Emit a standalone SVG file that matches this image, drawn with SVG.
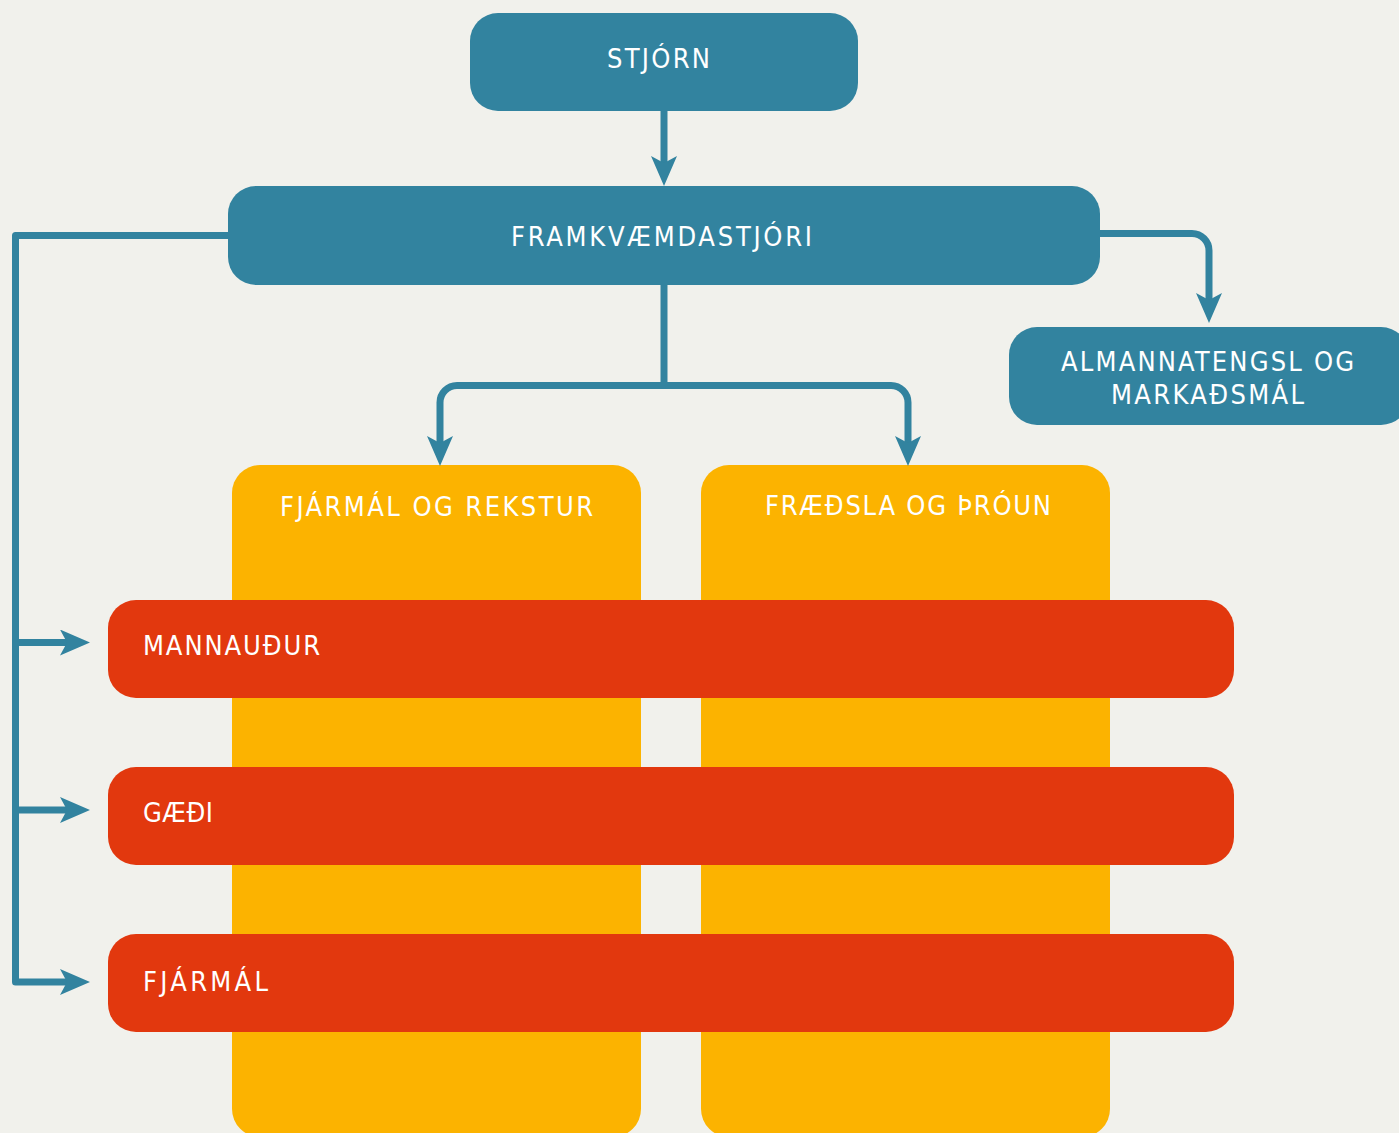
<svg xmlns="http://www.w3.org/2000/svg" width="1399" height="1133" viewBox="0 0 1399 1133">
<style>
.blue{fill:#32839f}
.yellow{fill:#fcb300}
.red{fill:#e2380e}
.t{font-family:"DejaVu Sans Condensed","DejaVu Sans","Liberation Sans",sans-serif;font-size:27px;fill:#ffffff;letter-spacing:3px}
.c{fill:none;stroke:#32839f;stroke-width:7;stroke-linejoin:round}
</style>
<defs>
<marker id="arr" viewBox="0 0 30 26" refX="8" refY="13" markerWidth="30" markerHeight="26" markerUnits="userSpaceOnUse" orient="auto">
<path d="M0,0 L30,13 L0,26 L7,13 Z" fill="#32839f"/>
</marker>
</defs>
<rect x="0" y="0" width="1399" height="1133" fill="#f1f1ec"/>
<g id="fjarmal-og-rekstur">
<rect class="yellow" x="232" y="465" width="409" height="672" rx="28"/>
<text class="t" x="280" y="516" textLength="316" lengthAdjust="spacing">FJÁRMÁL OG REKSTUR</text>
</g>
<g id="fraedsla-og-throun">
<rect class="yellow" x="701" y="465" width="409" height="672" rx="28"/>
<text class="t" x="765" y="515" textLength="289" lengthAdjust="spacing">FRÆÐSLA OG ÞRÓUN</text>
</g>
<g id="mannaudur">
<rect class="red" x="108" y="600" width="1126" height="98" rx="28"/>
<text class="t" x="143" y="655" textLength="180" lengthAdjust="spacing">MANNAUÐUR</text>
</g>
<g id="gaedi">
<rect class="red" x="108" y="767" width="1126" height="98" rx="28"/>
<text class="t" x="143" y="822" textLength="73" lengthAdjust="spacing">GÆÐI</text>
</g>
<g id="fjarmal">
<rect class="red" x="108" y="934" width="1126" height="98" rx="28"/>
<text class="t" x="143" y="991" textLength="128" lengthAdjust="spacing">FJÁRMÁL</text>
</g>
<g id="stjorn">
<rect class="blue" x="470" y="13" width="388" height="98" rx="28"/>
<text class="t" x="607" y="68" textLength="106" lengthAdjust="spacing">STJÓRN</text>
</g>
<g id="framkvaemdastjori">
<rect class="blue" x="228" y="186" width="872" height="99" rx="28"/>
<text class="t" x="511" y="246" textLength="304" lengthAdjust="spacing">FRAMKVÆMDASTJÓRI</text>
</g>
<g id="almannatengsl">
<rect class="blue" x="1009" y="327" width="400" height="98" rx="28"/>
<text class="t" x="1061" y="371" textLength="296" lengthAdjust="spacing">ALMANNATENGSL OG</text>
<text class="t" x="1111" y="404" textLength="196" lengthAdjust="spacing">MARKAÐSMÁL</text>
</g>
<g id="connectors">
<path class="c" d="M664,111 V164" marker-end="url(#arr)"/>
<path class="c" d="M664,285 V389"/>
<path class="c" d="M664,385.5 H457 A17,17 0 0 0 440,402.5 V444" marker-end="url(#arr)"/>
<path class="c" d="M664,385.5 H891 A17,17 0 0 1 908,402.5 V444" marker-end="url(#arr)"/>
<path class="c" d="M1100,233.5 H1192 A17,17 0 0 1 1209,250.5 V301" marker-end="url(#arr)"/>
<path class="c" d="M228,235.5 H15.5 V982 H68" marker-end="url(#arr)"/>
<path class="c" d="M15.5,642.5 H68" marker-end="url(#arr)"/>
<path class="c" d="M15.5,810 H68" marker-end="url(#arr)"/>
</g>
</svg>
